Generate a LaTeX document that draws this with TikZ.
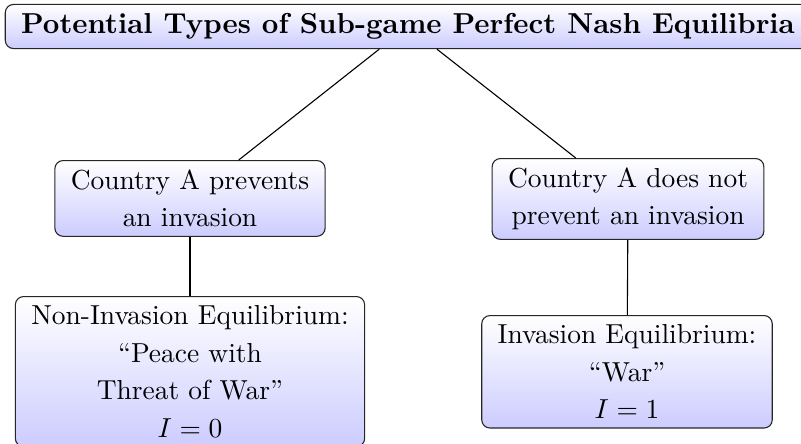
\documentclass[tikz,border=0pt]{standalone}
\begin{document}
\begin{tikzpicture}[x=0.364pt,y=-0.364pt,
  box/.style={draw=black!85, rounded corners=3pt, top color=white, bottom color=blue!20,
    align=center, inner xsep=5.8pt, inner ysep=3.3pt, font=\fontsize{10}{13.7}\selectfont},
  link/.style={draw=black, line width=0.4pt}]
\useasboundingbox (0,0) rectangle (801,443);
\node[box, font=\fontsize{10.5}{12}\selectfont\bfseries] (top) at (408,26.5) {Potential Types of Sub-game Perfect Nash Equilibria};
\node[box, anchor=north] (a) at (190,160) {Country A prevents\\an invasion};
\node[box, anchor=north] (b) at (628,158) {Country A does not\\prevent an invasion};
\node[box, anchor=north] (c) at (190,296) {Non-Invasion Equilibrium:\\``Peace with\\Threat of War''\\$I=0$};
\node[box, anchor=north] (d) at (627,315) {Invasion Equilibrium:\\``War''\\$I=1$};
\draw[link] (top) -- (a);
\draw[link] (top) -- (b);
\draw[link] (a) -- (c);
\draw[link] (b) -- (d);
\end{tikzpicture}
\end{document}
